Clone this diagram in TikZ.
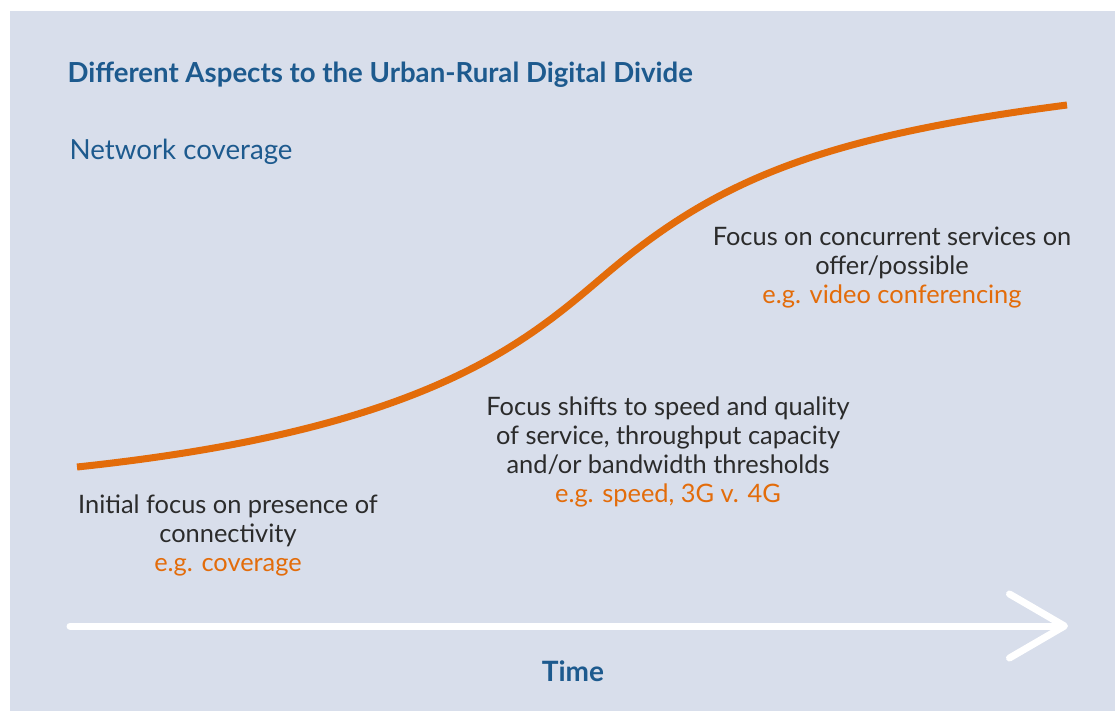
\documentclass[tikz,border=0pt]{standalone}
\usepackage{fontspec}
\setmainfont{Lato}
\usetikzlibrary{arrows.meta}
\usetikzlibrary{positioning}
\definecolor{panel}{HTML}{D8DEEB}
\definecolor{curve}{HTML}{E36C0A}
\definecolor{heading}{HTML}{1D5A8E}
\definecolor{body}{HTML}{2B2B2B}

\begin{document}
\begin{tikzpicture}[x=1pt,y=-1pt,
    title node/.style={anchor=west,text=heading,font=\fontsize{27.6}{32}\selectfont\bfseries},
    phase node/.style={align=center,text=body,font=\fontsize{25.4}{29}\selectfont}]

  \useasboundingbox[fill=white] (0,0) rectangle (1115,711);
  \fill[panel] (10,11) rectangle (1115,711);

  \node[title node] (title) at (64,75) {Different Aspects to the Urban-Rural Digital Divide};
  \node[title node,font=\fontsize{27.7}{32}\selectfont] (yaxis) at (66,152) {Network coverage};

  \coordinate (c0) at (77,467);
  \coordinate (c1) at (605,275);
  \coordinate (c2) at (1067,105);
  \draw[curve,line width=7pt] (c0) .. controls (427,430) and (525,343) .. (c1)
    .. controls (715,181.5) and (817,137.5) .. (c2);

  \node[phase node] (initial) at (228,535) {Initial focus on presence of\\connectivity\\
    \textcolor{curve}{e.g. coverage}};
  \node[phase node] (speed) at (668,452) {Focus shifts to speed and quality\\of service, throughput capacity\\
    and/or bandwidth thresholds\\\textcolor{curve}{e.g. speed, 3G v. 4G}};
  \node[phase node] (services) at (892,268) {Focus on concurrent services on\\offer/possible\\
    \textcolor{curve}{e.g. video conferencing}};

  \coordinate (t0) at (70,626);
  \coordinate (t1) at (1068,626);
  \draw[white,line width=7pt,line cap=round,
    -{Straight Barb[length=55pt,width=64pt,round]}] (t0) -- (t1);
  \node[text=heading,font=\fontsize{28}{32}\selectfont\bfseries] (time) at (573,671) {Time};
\end{tikzpicture}
\end{document}
